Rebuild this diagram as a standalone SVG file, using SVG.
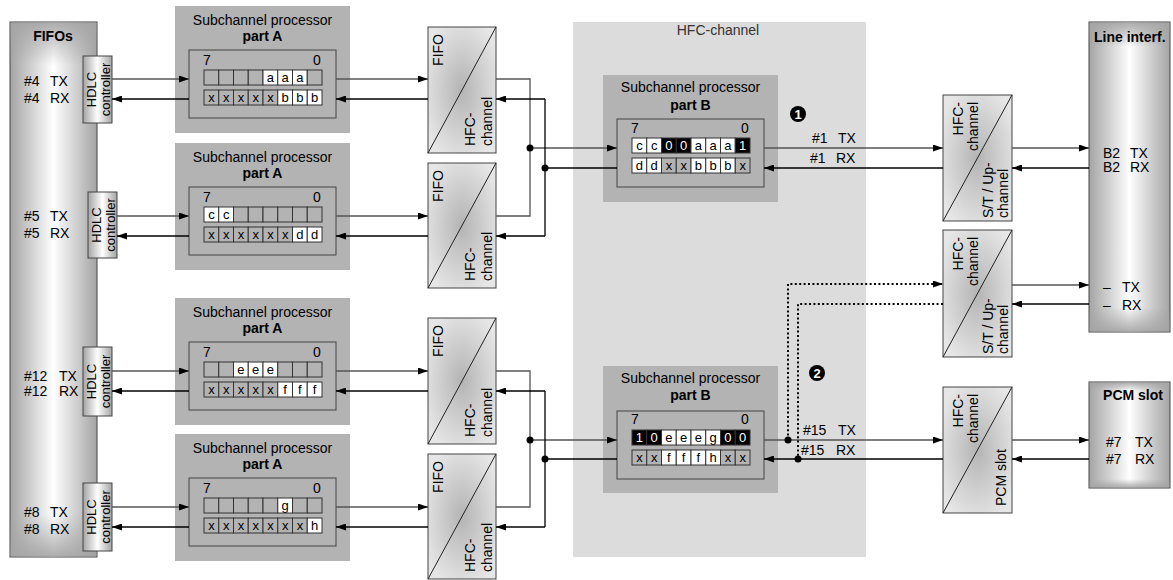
<svg xmlns="http://www.w3.org/2000/svg" width="1173" height="580" viewBox="0 0 1173 580">
<style>
text{font-family:"Liberation Sans",Arial,sans-serif;fill:#000}
.t14{font-size:14px}
.t13{font-size:13px}
.b{font-weight:bold}
.mid{text-anchor:middle}
.end{text-anchor:end}
.sub{fill:#b3b3b3}
.inner{fill:#b3b3b3;stroke:#444;stroke-width:1}
.cg{fill:#b3b3b3;stroke:#333;stroke-width:1}
.cw{fill:#fff;stroke:#333;stroke-width:1}
.cb{fill:#000;stroke:#333;stroke-width:1}
.ct{font-size:13px;text-anchor:middle}
.ctw{font-size:13px;text-anchor:middle;fill:#fff}
.panel{fill:url(#gPanel);stroke:#444;stroke-width:1}
.pov{fill:url(#gPanelV)}
.conv{fill:url(#gConv);stroke:#444;stroke-width:1}
.diag{stroke:#222;stroke-width:1}
.tx{fill:none;stroke:#555;stroke-width:1.3}
.rx{fill:none;stroke:#000;stroke-width:1.3}
.dot{fill:none;stroke:#000;stroke-width:2;stroke-dasharray:2 2.4}
.arr{marker-end:url(#ah)}
.jn{fill:#000}
</style>
<defs>
<linearGradient id="gPanel" x1="0" y1="0" x2="1" y2="0">
<stop offset="0" stop-color="#a4a4a4"/>
<stop offset="0.5" stop-color="#ffffff"/>
<stop offset="1" stop-color="#a4a4a4"/>
</linearGradient>
<linearGradient id="gPanelV" x1="0" y1="0" x2="0" y2="1">
<stop offset="0" stop-color="#a4a4a4" stop-opacity="0.9"/>
<stop offset="0.08" stop-color="#a4a4a4" stop-opacity="0"/>
<stop offset="0.92" stop-color="#a4a4a4" stop-opacity="0"/>
<stop offset="1" stop-color="#a4a4a4" stop-opacity="0.9"/>
</linearGradient>
<radialGradient id="gConv" cx="0.5" cy="0.5" r="0.6">
<stop offset="0" stop-color="#b4b4b4"/>
<stop offset="1" stop-color="#e6e6e6"/>
</radialGradient>
<marker id="ah" viewBox="0 0 10 7" refX="10" refY="3.5" markerWidth="10" markerHeight="7" markerUnits="userSpaceOnUse" orient="auto">
<path d="M0,0 L10,3.5 L0,7 z" fill="#000"/>
</marker>
</defs>

<rect x="573" y="22" width="293" height="535" fill="#dcdcdc"/>
<text class="t14 mid" x="718" y="35" style="fill:#333">HFC-channel</text>

<g id="fifos">
<rect class="panel" x="10" y="22" width="87" height="535"/>
<rect class="pov" x="10.5" y="22.5" width="86" height="534"/>
<text class="t14 b mid" x="53" y="41">FIFOs</text>
<text class="t14" x="24" y="86">#4 <tspan x="50">TX</tspan></text>
<text class="t14" x="24" y="103">#4 <tspan x="50">RX</tspan></text>
<text class="t14" x="24" y="221">#5 <tspan x="50">TX</tspan></text>
<text class="t14" x="24" y="238">#5 <tspan x="50">RX</tspan></text>
<text class="t14" x="24" y="381">#12 <tspan x="59">TX</tspan></text>
<text class="t14" x="24" y="396">#12 <tspan x="59">RX</tspan></text>
<text class="t14" x="24" y="517">#8 <tspan x="50">TX</tspan></text>
<text class="t14" x="24" y="534">#8 <tspan x="50">RX</tspan></text>
</g>

<g id="hdlc1" transform="translate(83,56)">
<rect class="panel" x="0" y="0" width="29" height="67"/>
<text class="t13 mid" transform="translate(13,33.5) rotate(-90)">HDLC</text>
<text class="t13 mid" transform="translate(27,33.5) rotate(-90)">controller</text>
</g>
<g id="hdlc2" transform="translate(88,192)">
<rect class="panel" x="0" y="0" width="29" height="66"/>
<text class="t13 mid" transform="translate(13,33) rotate(-90)">HDLC</text>
<text class="t13 mid" transform="translate(27,33) rotate(-90)">controller</text>
</g>
<g id="hdlc3" transform="translate(83,347)">
<rect class="panel" x="0" y="0" width="29" height="69"/>
<text class="t13 mid" transform="translate(13,34.5) rotate(-90)">HDLC</text>
<text class="t13 mid" transform="translate(27,34.5) rotate(-90)">controller</text>
</g>
<g id="hdlc4" transform="translate(83,483)">
<rect class="panel" x="0" y="0" width="29" height="68"/>
<text class="t13 mid" transform="translate(13,34) rotate(-90)">HDLC</text>
<text class="t13 mid" transform="translate(27,34) rotate(-90)">controller</text>
</g>

<g id="subA1" transform="translate(175,6)">
<rect class="sub" width="175" height="127"/>
<text class="t14 mid" x="87.5" y="19">Subchannel processor</text>
<text class="t14 b mid" x="87.5" y="35">part A</text>
<rect class="inner" x="14" y="44" width="147" height="68"/>
<text class="t14 mid" x="32" y="59">7</text><text class="t14 mid" x="142" y="59">0</text>
<rect class="cg" x="29" y="64" width="14.75" height="15"/><rect class="cg" x="43.75" y="64" width="14.75" height="15"/><rect class="cg" x="58.5" y="64" width="14.75" height="15"/><rect class="cg" x="73.25" y="64" width="14.75" height="15"/><rect class="cw" x="88" y="64" width="14.75" height="15"/><rect class="cw" x="102.75" y="64" width="14.75" height="15"/><rect class="cw" x="117.5" y="64" width="14.75" height="15"/><rect class="cg" x="132.25" y="64" width="14.75" height="15"/>
<text class="ct" x="95.375" y="75.5">a</text><text class="ct" x="110.125" y="75.5">a</text><text class="ct" x="124.875" y="75.5">a</text>
<rect class="cg" x="29" y="84" width="14.75" height="15"/><rect class="cg" x="43.75" y="84" width="14.75" height="15"/><rect class="cg" x="58.5" y="84" width="14.75" height="15"/><rect class="cg" x="73.25" y="84" width="14.75" height="15"/><rect class="cg" x="88" y="84" width="14.75" height="15"/><rect class="cw" x="102.75" y="84" width="14.75" height="15"/><rect class="cw" x="117.5" y="84" width="14.75" height="15"/><rect class="cw" x="132.25" y="84" width="14.75" height="15"/>
<text class="ct" x="36.375" y="95.5">x</text><text class="ct" x="51.125" y="95.5">x</text><text class="ct" x="65.875" y="95.5">x</text><text class="ct" x="80.625" y="95.5">x</text><text class="ct" x="95.375" y="95.5">x</text><text class="ct" x="110.125" y="95.5">b</text><text class="ct" x="124.875" y="95.5">b</text><text class="ct" x="139.625" y="95.5">b</text>
</g>

<g id="subA2" transform="translate(175,143)">
<rect class="sub" width="175" height="127"/>
<text class="t14 mid" x="87.5" y="19">Subchannel processor</text>
<text class="t14 b mid" x="87.5" y="35">part A</text>
<rect class="inner" x="14" y="44" width="147" height="68"/>
<text class="t14 mid" x="32" y="59">7</text><text class="t14 mid" x="142" y="59">0</text>
<rect class="cw" x="29" y="64" width="14.75" height="15"/><rect class="cw" x="43.75" y="64" width="14.75" height="15"/><rect class="cg" x="58.5" y="64" width="14.75" height="15"/><rect class="cg" x="73.25" y="64" width="14.75" height="15"/><rect class="cg" x="88" y="64" width="14.75" height="15"/><rect class="cg" x="102.75" y="64" width="14.75" height="15"/><rect class="cg" x="117.5" y="64" width="14.75" height="15"/><rect class="cg" x="132.25" y="64" width="14.75" height="15"/>
<text class="ct" x="36.375" y="75.5">c</text><text class="ct" x="51.125" y="75.5">c</text>
<rect class="cg" x="29" y="84" width="14.75" height="15"/><rect class="cg" x="43.75" y="84" width="14.75" height="15"/><rect class="cg" x="58.5" y="84" width="14.75" height="15"/><rect class="cg" x="73.25" y="84" width="14.75" height="15"/><rect class="cg" x="88" y="84" width="14.75" height="15"/><rect class="cg" x="102.75" y="84" width="14.75" height="15"/><rect class="cw" x="117.5" y="84" width="14.75" height="15"/><rect class="cw" x="132.25" y="84" width="14.75" height="15"/>
<text class="ct" x="36.375" y="95.5">x</text><text class="ct" x="51.125" y="95.5">x</text><text class="ct" x="65.875" y="95.5">x</text><text class="ct" x="80.625" y="95.5">x</text><text class="ct" x="95.375" y="95.5">x</text><text class="ct" x="110.125" y="95.5">x</text><text class="ct" x="124.875" y="95.5">d</text><text class="ct" x="139.625" y="95.5">d</text>
</g>

<g id="subA3" transform="translate(175,298)">
<rect class="sub" width="175" height="127"/>
<text class="t14 mid" x="87.5" y="19">Subchannel processor</text>
<text class="t14 b mid" x="87.5" y="35">part A</text>
<rect class="inner" x="14" y="44" width="147" height="68"/>
<text class="t14 mid" x="32" y="59">7</text><text class="t14 mid" x="142" y="59">0</text>
<rect class="cg" x="29" y="64" width="14.75" height="15"/><rect class="cg" x="43.75" y="64" width="14.75" height="15"/><rect class="cw" x="58.5" y="64" width="14.75" height="15"/><rect class="cw" x="73.25" y="64" width="14.75" height="15"/><rect class="cw" x="88" y="64" width="14.75" height="15"/><rect class="cg" x="102.75" y="64" width="14.75" height="15"/><rect class="cg" x="117.5" y="64" width="14.75" height="15"/><rect class="cg" x="132.25" y="64" width="14.75" height="15"/>
<text class="ct" x="65.875" y="75.5">e</text><text class="ct" x="80.625" y="75.5">e</text><text class="ct" x="95.375" y="75.5">e</text>
<rect class="cg" x="29" y="84" width="14.75" height="15"/><rect class="cg" x="43.75" y="84" width="14.75" height="15"/><rect class="cg" x="58.5" y="84" width="14.75" height="15"/><rect class="cg" x="73.25" y="84" width="14.75" height="15"/><rect class="cg" x="88" y="84" width="14.75" height="15"/><rect class="cw" x="102.75" y="84" width="14.75" height="15"/><rect class="cw" x="117.5" y="84" width="14.75" height="15"/><rect class="cw" x="132.25" y="84" width="14.75" height="15"/>
<text class="ct" x="36.375" y="95.5">x</text><text class="ct" x="51.125" y="95.5">x</text><text class="ct" x="65.875" y="95.5">x</text><text class="ct" x="80.625" y="95.5">x</text><text class="ct" x="95.375" y="95.5">x</text><text class="ct" x="110.125" y="95.5">f</text><text class="ct" x="124.875" y="95.5">f</text><text class="ct" x="139.625" y="95.5">f</text>
</g>

<g id="subA4" transform="translate(175,434)">
<rect class="sub" width="175" height="127"/>
<text class="t14 mid" x="87.5" y="19">Subchannel processor</text>
<text class="t14 b mid" x="87.5" y="35">part A</text>
<rect class="inner" x="14" y="44" width="147" height="68"/>
<text class="t14 mid" x="32" y="59">7</text><text class="t14 mid" x="142" y="59">0</text>
<rect class="cg" x="29" y="64" width="14.75" height="15"/><rect class="cg" x="43.75" y="64" width="14.75" height="15"/><rect class="cg" x="58.5" y="64" width="14.75" height="15"/><rect class="cg" x="73.25" y="64" width="14.75" height="15"/><rect class="cg" x="88" y="64" width="14.75" height="15"/><rect class="cw" x="102.75" y="64" width="14.75" height="15"/><rect class="cg" x="117.5" y="64" width="14.75" height="15"/><rect class="cg" x="132.25" y="64" width="14.75" height="15"/>
<text class="ct" x="110.125" y="75.5">g</text>
<rect class="cg" x="29" y="84" width="14.75" height="15"/><rect class="cg" x="43.75" y="84" width="14.75" height="15"/><rect class="cg" x="58.5" y="84" width="14.75" height="15"/><rect class="cg" x="73.25" y="84" width="14.75" height="15"/><rect class="cg" x="88" y="84" width="14.75" height="15"/><rect class="cg" x="102.75" y="84" width="14.75" height="15"/><rect class="cg" x="117.5" y="84" width="14.75" height="15"/><rect class="cw" x="132.25" y="84" width="14.75" height="15"/>
<text class="ct" x="36.375" y="95.5">x</text><text class="ct" x="51.125" y="95.5">x</text><text class="ct" x="65.875" y="95.5">x</text><text class="ct" x="80.625" y="95.5">x</text><text class="ct" x="95.375" y="95.5">x</text><text class="ct" x="110.125" y="95.5">x</text><text class="ct" x="124.875" y="95.5">x</text><text class="ct" x="139.625" y="95.5">h</text>
</g>

<g id="conv1" transform="translate(428,27)">
<rect class="conv" width="68" height="126"/><line class="diag" x1="0" y1="126" x2="68" y2="0"/>
<text class="t14 end" transform="translate(15,7) rotate(-90)">FIFO</text>
<text class="t14" transform="translate(47,119) rotate(-90)">HFC-</text>
<text class="t14" transform="translate(64,119) rotate(-90)">channel</text>
</g>
<g id="conv2" transform="translate(428,163)">
<rect class="conv" width="68" height="125"/><line class="diag" x1="0" y1="125" x2="68" y2="0"/>
<text class="t14 end" transform="translate(15,7) rotate(-90)">FIFO</text>
<text class="t14" transform="translate(47,118) rotate(-90)">HFC-</text>
<text class="t14" transform="translate(64,118) rotate(-90)">channel</text>
</g>
<g id="conv3" transform="translate(428,318)">
<rect class="conv" width="68" height="126"/><line class="diag" x1="0" y1="126" x2="68" y2="0"/>
<text class="t14 end" transform="translate(15,7) rotate(-90)">FIFO</text>
<text class="t14" transform="translate(47,119) rotate(-90)">HFC-</text>
<text class="t14" transform="translate(64,119) rotate(-90)">channel</text>
</g>
<g id="conv4" transform="translate(428,454)">
<rect class="conv" width="68" height="125"/><line class="diag" x1="0" y1="125" x2="68" y2="0"/>
<text class="t14 end" transform="translate(15,7) rotate(-90)">FIFO</text>
<text class="t14" transform="translate(47,118) rotate(-90)">HFC-</text>
<text class="t14" transform="translate(64,118) rotate(-90)">channel</text>
</g>

<g id="subB1" transform="translate(603,75)">
<rect class="sub" width="175" height="127"/>
<text class="t14 mid" x="87.5" y="17">Subchannel processor</text>
<text class="t14 b mid" x="87.5" y="35">part B</text>
<rect class="inner" x="14" y="44" width="147" height="68"/>
<text class="t14 mid" x="32" y="58">7</text><text class="t14 mid" x="142" y="58">0</text>
<rect class="cw" x="29" y="63" width="14.75" height="15"/><rect class="cw" x="43.75" y="63" width="14.75" height="15"/><rect class="cb" x="58.5" y="63" width="14.75" height="15"/><rect class="cb" x="73.25" y="63" width="14.75" height="15"/><rect class="cw" x="88" y="63" width="14.75" height="15"/><rect class="cw" x="102.75" y="63" width="14.75" height="15"/><rect class="cw" x="117.5" y="63" width="14.75" height="15"/><rect class="cb" x="132.25" y="63" width="14.75" height="15"/>
<text class="ct" x="36.375" y="74.5">c</text><text class="ct" x="51.125" y="74.5">c</text><text class="ctw" x="65.875" y="74.5">0</text><text class="ctw" x="80.625" y="74.5">0</text><text class="ct" x="95.375" y="74.5">a</text><text class="ct" x="110.125" y="74.5">a</text><text class="ct" x="124.875" y="74.5">a</text><text class="ctw" x="139.625" y="74.5">1</text>
<rect class="cw" x="29" y="83" width="14.75" height="15"/><rect class="cw" x="43.75" y="83" width="14.75" height="15"/><rect class="cg" x="58.5" y="83" width="14.75" height="15"/><rect class="cg" x="73.25" y="83" width="14.75" height="15"/><rect class="cw" x="88" y="83" width="14.75" height="15"/><rect class="cw" x="102.75" y="83" width="14.75" height="15"/><rect class="cw" x="117.5" y="83" width="14.75" height="15"/><rect class="cg" x="132.25" y="83" width="14.75" height="15"/>
<text class="ct" x="36.375" y="94.5">d</text><text class="ct" x="51.125" y="94.5">d</text><text class="ct" x="65.875" y="94.5">x</text><text class="ct" x="80.625" y="94.5">x</text><text class="ct" x="95.375" y="94.5">b</text><text class="ct" x="110.125" y="94.5">b</text><text class="ct" x="124.875" y="94.5">b</text><text class="ct" x="139.625" y="94.5">x</text>
</g>

<g id="subB2" transform="translate(603,366)">
<rect class="sub" width="175" height="127"/>
<text class="t14 mid" x="87.5" y="17">Subchannel processor</text>
<text class="t14 b mid" x="87.5" y="34">part B</text>
<rect class="inner" x="14" y="45" width="147" height="68"/>
<text class="t14 mid" x="32" y="58">7</text><text class="t14 mid" x="142" y="58">0</text>
<rect class="cb" x="29" y="64" width="14.75" height="15"/><rect class="cb" x="43.75" y="64" width="14.75" height="15"/><rect class="cw" x="58.5" y="64" width="14.75" height="15"/><rect class="cw" x="73.25" y="64" width="14.75" height="15"/><rect class="cw" x="88" y="64" width="14.75" height="15"/><rect class="cw" x="102.75" y="64" width="14.75" height="15"/><rect class="cb" x="117.5" y="64" width="14.75" height="15"/><rect class="cb" x="132.25" y="64" width="14.75" height="15"/>
<text class="ctw" x="36.375" y="75.5">1</text><text class="ctw" x="51.125" y="75.5">0</text><text class="ct" x="65.875" y="75.5">e</text><text class="ct" x="80.625" y="75.5">e</text><text class="ct" x="95.375" y="75.5">e</text><text class="ct" x="110.125" y="75.5">g</text><text class="ctw" x="124.875" y="75.5">0</text><text class="ctw" x="139.625" y="75.5">0</text>
<rect class="cg" x="29" y="84" width="14.75" height="15"/><rect class="cg" x="43.75" y="84" width="14.75" height="15"/><rect class="cw" x="58.5" y="84" width="14.75" height="15"/><rect class="cw" x="73.25" y="84" width="14.75" height="15"/><rect class="cw" x="88" y="84" width="14.75" height="15"/><rect class="cw" x="102.75" y="84" width="14.75" height="15"/><rect class="cg" x="117.5" y="84" width="14.75" height="15"/><rect class="cg" x="132.25" y="84" width="14.75" height="15"/>
<text class="ct" x="36.375" y="95.5">x</text><text class="ct" x="51.125" y="95.5">x</text><text class="ct" x="65.875" y="95.5">f</text><text class="ct" x="80.625" y="95.5">f</text><text class="ct" x="95.375" y="95.5">f</text><text class="ct" x="110.125" y="95.5">h</text><text class="ct" x="124.875" y="95.5">x</text><text class="ct" x="139.625" y="95.5">x</text>
</g>

<g id="convR1" transform="translate(943,95)">
<rect class="conv" width="69" height="126"/><line class="diag" x1="0" y1="126" x2="69" y2="0"/>
<text class="t14 end" transform="translate(20,7) rotate(-90)">HFC-</text>
<text class="t14 end" transform="translate(35,7) rotate(-90)">channel</text>
<text class="t14" transform="translate(50,123) rotate(-90)">S/T / Up-</text>
<text class="t14" transform="translate(65,123) rotate(-90)">channel</text>
</g>
<g id="convR2" transform="translate(943,230)">
<rect class="conv" width="69" height="127"/><line class="diag" x1="0" y1="127" x2="69" y2="0"/>
<text class="t14 end" transform="translate(20,7) rotate(-90)">HFC-</text>
<text class="t14 end" transform="translate(35,7) rotate(-90)">channel</text>
<text class="t14" transform="translate(50,124) rotate(-90)">S/T / Up-</text>
<text class="t14" transform="translate(65,124) rotate(-90)">channel</text>
</g>
<g id="convR3" transform="translate(943,387)">
<rect class="conv" width="69" height="126"/><line class="diag" x1="0" y1="126" x2="69" y2="0"/>
<text class="t14 end" transform="translate(20,7) rotate(-90)">HFC-</text>
<text class="t14 end" transform="translate(35,7) rotate(-90)">channel</text>
<text class="t14" transform="translate(63,119) rotate(-90)">PCM slot</text>
</g>

<g id="lineif">
<rect class="panel" x="1089" y="22" width="81" height="310"/>
<rect class="pov" x="1089.5" y="22.5" width="80" height="309"/>
<text class="t14 b" x="1094" y="42">Line interf.</text>
<text class="t14" x="1103" y="158">B2 <tspan x="1130">TX</tspan></text>
<text class="t14" x="1103" y="172">B2 <tspan x="1130">RX</tspan></text>
<text class="t14" x="1103" y="292">– <tspan x="1122">TX</tspan></text>
<text class="t14" x="1103" y="310">– <tspan x="1122">RX</tspan></text>
</g>

<g id="pcmslot">
<rect class="panel" x="1089" y="382" width="81" height="106"/>
<rect class="pov" x="1089.5" y="382.5" width="80" height="105"/>
<text class="t14 b mid" x="1133" y="400">PCM slot</text>
<text class="t14" x="1106" y="447">#7 <tspan x="1135">TX</tspan></text>
<text class="t14" x="1106" y="464">#7 <tspan x="1135">RX</tspan></text>
</g>

<g id="bullets">
<circle cx="798" cy="114" r="8" fill="#000"/>
<text class="t13 b mid" x="798" y="118.5" style="fill:#fff">1</text>
<circle cx="817" cy="373" r="8" fill="#000"/>
<text class="t13 b mid" x="817" y="377.5" style="fill:#fff">2</text>
</g>

<g id="labels">
<text class="t14" x="812" y="143">#1 <tspan x="838">TX</tspan></text>
<text class="t14" x="810" y="163">#1 <tspan x="836">RX</tspan></text>
<text class="t14" x="803" y="435">#15 <tspan x="838">TX</tspan></text>
<text class="t14" x="801" y="455">#15 <tspan x="836">RX</tspan></text>
</g>

<g id="connectors">
<path class="tx arr" d="M112,79 H189"/>
<path class="rx arr" d="M189,99 H112"/>
<path class="tx arr" d="M117,216 H189"/>
<path class="rx arr" d="M189,236 H117"/>
<path class="tx arr" d="M112,371 H189"/>
<path class="rx arr" d="M189,391 H112"/>
<path class="tx arr" d="M112,507 H189"/>
<path class="rx arr" d="M189,527 H112"/>
<path class="tx arr" d="M336,79 H428"/>
<path class="rx arr" d="M428,99 H336"/>
<path class="tx arr" d="M336,216 H428"/>
<path class="rx arr" d="M428,236 H336"/>
<path class="tx arr" d="M336,371 H428"/>
<path class="rx arr" d="M428,391 H336"/>
<path class="tx arr" d="M336,507 H428"/>
<path class="rx arr" d="M428,527 H336"/>
<path class="tx" d="M496,79 H530 V216 H496"/>
<path class="tx arr" d="M530,148 H617"/>
<path class="rx" d="M545,99 V236"/>
<path class="rx arr" d="M545,99 H496"/>
<path class="rx arr" d="M545,236 H496"/>
<path class="rx" d="M617,168 H545"/>
<path class="tx" d="M496,371 H530 V507 H496"/>
<path class="tx arr" d="M530,440 H617"/>
<path class="rx" d="M545,391 V527"/>
<path class="rx arr" d="M545,391 H496"/>
<path class="rx arr" d="M545,527 H496"/>
<path class="rx" d="M617,459 H545"/>
<path class="tx arr" d="M764,148 H943"/>
<path class="rx arr" d="M943,168 H764"/>
<path class="tx arr" d="M764,440 H943"/>
<path class="rx arr" d="M943,459 H764"/>
<path class="dot arr" d="M788,440 V284 H943"/>
<path class="dot" d="M943,304 H798 V459"/>
<path class="tx arr" d="M1012,148 H1089"/>
<path class="rx arr" d="M1089,168 H1012"/>
<path class="tx arr" d="M1012,285 H1089"/>
<path class="rx arr" d="M1089,304 H1012"/>
<path class="tx arr" d="M1012,440 H1089"/>
<path class="rx arr" d="M1089,459 H1012"/>
<circle class="jn" cx="530" cy="148" r="3.5"/>
<circle class="jn" cx="545" cy="168" r="3.5"/>
<circle class="jn" cx="530" cy="440" r="3.5"/>
<circle class="jn" cx="545" cy="459" r="3.5"/>
<circle class="jn" cx="788" cy="440" r="3.5"/>
<circle class="jn" cx="798" cy="459" r="3.5"/>
</g>
</svg>
